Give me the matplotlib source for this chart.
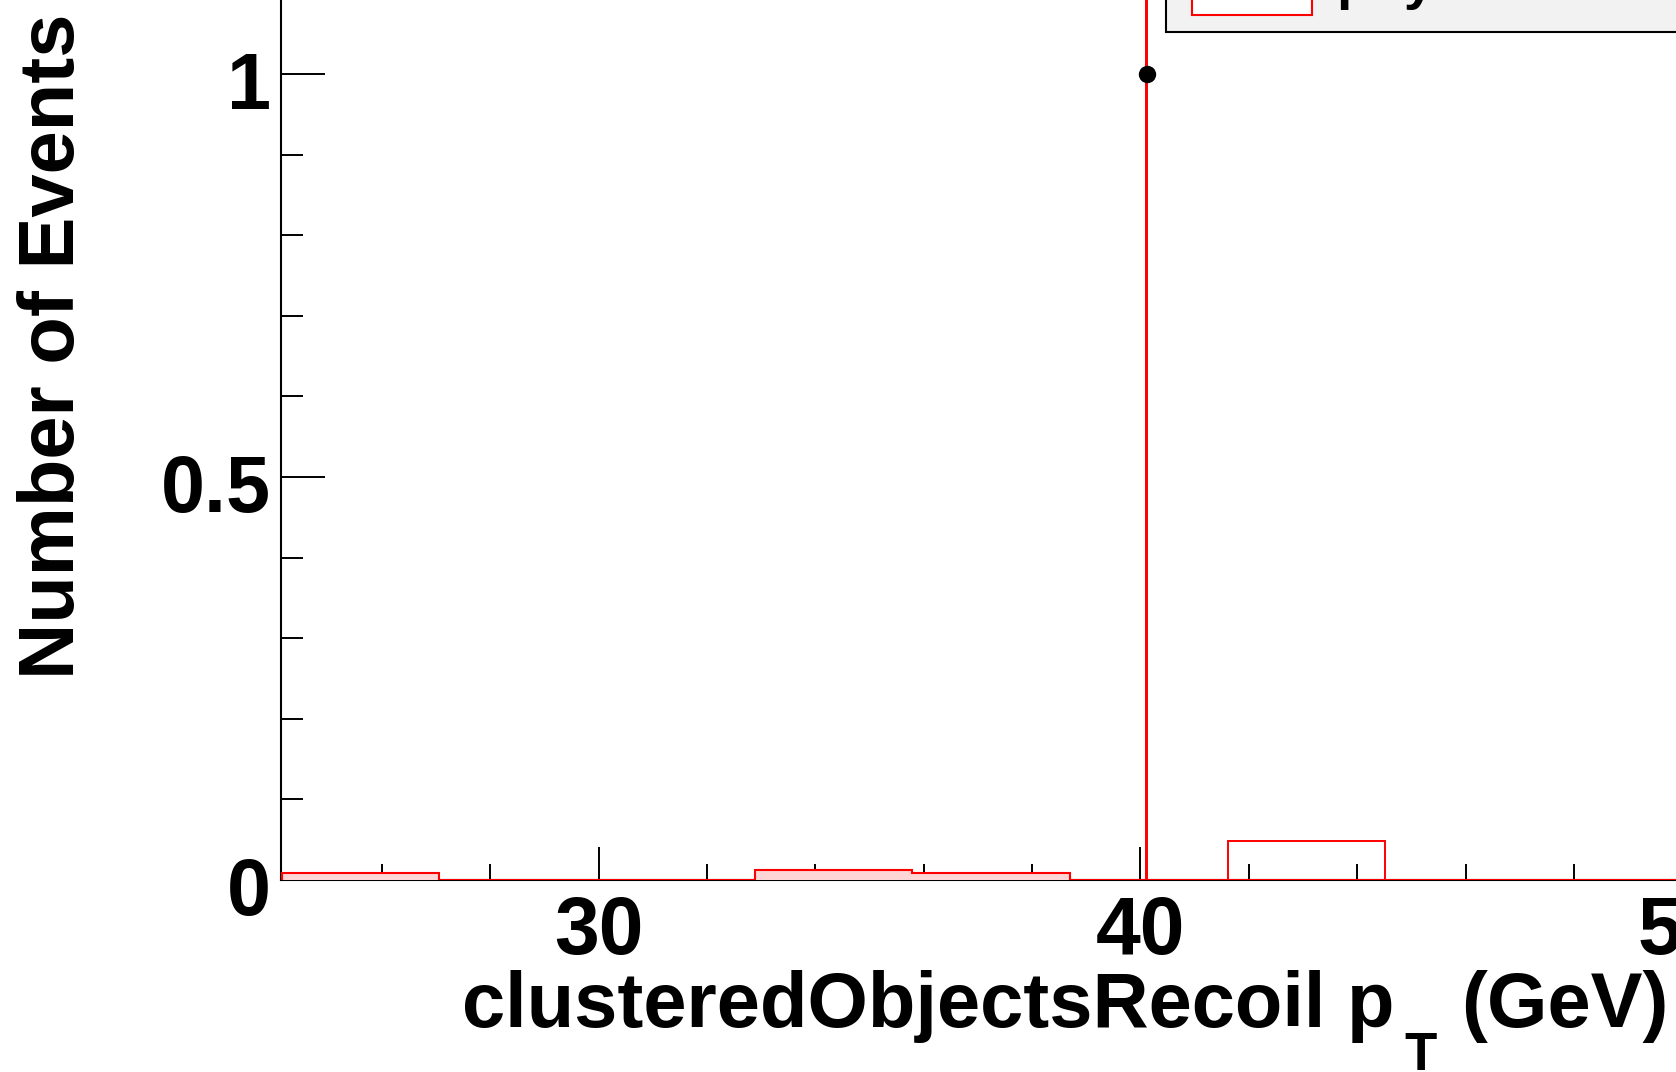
import matplotlib
matplotlib.use("Agg")
import matplotlib.pyplot as plt
from matplotlib.patches import Rectangle
from matplotlib.ticker import FixedLocator, MultipleLocator
from matplotlib.transforms import ScaledTranslation

# ---------------- data ----------------
bkg_edges = [24.15, 27.06, 29.97, 32.88, 35.79, 38.70, 41.61, 44.52, 47.43, 50.34]
bkg_values = [0.0087, 0.0, 0.0, 0.0124, 0.0087, 0.0, 0.0, 0.0, 0.0]

sig_edges = [40.11, 40.13, 41.61, 44.52, 50.34]
sig_values = [3.0, 0.0, 0.048, 0.0]

data_x = [40.12]
data_y = [1.0]

x_major = [30, 40, 50]
x_major_labels = ["30", "40", "50"]
y_major = [0, 0.5, 1]
y_major_labels = ["0", "0.5", "1"]

x_title = "clusteredObjectsRecoil p"
x_title_sub = "T"
x_title_end = "(GeV)"
y_title = "Number of Events"
legend_text = "physics"

# ---------------- figure ----------------
W, H = 1676, 1072
plt.rcParams['font.family'] = ['Liberation Sans', 'DejaVu Sans']
fig = plt.figure(figsize=(W / 100, H / 100), dpi=100)

px_x = 54.19   # pixels per x unit
px_y = 806.0   # pixels per y unit
x0, x1 = 24.14, 50.0
y0, y1 = 0.0, 1.2
left_px, bottom_px = 281, 880
ax = fig.add_axes([left_px / W, (H - bottom_px) / H,
                   (x1 - x0) * px_x / W, (y1 - y0) * px_y / H])
ax.set_xlim(x0, x1)
ax.set_ylim(y0, y1)

RED = "#ff0000"
PINK = "#ffd6d6"

ax.stairs(bkg_values, bkg_edges, fill=True, color=PINK, zorder=2)
ax.stairs(bkg_values, bkg_edges, fill=False, color=RED, lw=1.5, zorder=3)
ax.stairs(sig_values, sig_edges, fill=False, color=RED, lw=1.4, zorder=4)
ax.plot(data_x, data_y, 'o', color='black', markersize=11.5, zorder=5)

for s in ['top', 'right']:
    ax.spines[s].set_visible(False)
for s in ['left', 'bottom']:
    ax.spines[s].set_linewidth(1.5)
    ax.spines[s].set_zorder(1)

ax.xaxis.set_major_locator(FixedLocator(x_major))
ax.set_xticklabels(x_major_labels)
ax.xaxis.set_minor_locator(MultipleLocator(2))
ax.yaxis.set_major_locator(FixedLocator(y_major))
ax.set_yticklabels(y_major_labels)
ax.yaxis.set_minor_locator(MultipleLocator(0.1))

ax.tick_params(axis='x', which='major', direction='in', length=24, width=1.4,
               labelsize=58, pad=11)
ax.tick_params(axis='x', which='minor', direction='in', length=11.5, width=1.4)
ax.tick_params(axis='y', which='major', direction='in', length=32, width=1.4,
               labelsize=57, pad=7)
ax.tick_params(axis='y', which='minor', direction='in', length=16, width=1.4)
shift = ScaledTranslation(0, -6 / 100, fig.dpi_scale_trans)
for lab in ax.get_xticklabels():
    lab.set_fontweight('bold')
for lab in ax.get_yticklabels():
    lab.set_fontweight('bold')
    lab.set_transform(lab.get_transform() + shift)

# ---------------- titles ----------------
fig.text(74 / W, 1 - 679 / H, y_title, rotation=90, rotation_mode='anchor',
         ha='left', va='baseline', fontsize=56, fontweight='bold')

renderer = fig.canvas.get_renderer()
t_main = fig.text(462 / W, 1 - 1027 / H, x_title, ha='left', va='baseline',
                  fontsize=56, fontweight='bold')
bb = t_main.get_window_extent(renderer)
t_sub = fig.text((bb.x1 + 10) / W, 1 - 1070 / H, x_title_sub, ha='left',
                 va='baseline', fontsize=38, fontweight='bold')
bb2 = t_sub.get_window_extent(renderer)
fig.text((bb2.x1 + 24) / W, 1 - 1027 / H, x_title_end, ha='left',
         va='baseline', fontsize=56, fontweight='bold')

# ---------------- legend (cropped) ----------------
fig.patches.append(Rectangle((1170 / W, (H - 29) / H), 600 / W, 100 / H,
                             transform=fig.transFigure, facecolor='#555555',
                             edgecolor='none', zorder=9))
fig.patches.append(Rectangle((1166 / W, (H - 32) / H), 600 / W, 100 / H,
                             transform=fig.transFigure, facecolor='#f2f2f2',
                             edgecolor='black', lw=1.5, zorder=10))
fig.patches.append(Rectangle((1192 / W, (H - 15) / H), 120 / W, 60 / H,
                             transform=fig.transFigure, facecolor='white',
                             edgecolor=RED, lw=1.5, zorder=11))
fig.text(1336 / W, 1 + 2 / H, legend_text, ha='left', va='baseline',
         fontsize=40, fontweight='bold', zorder=12)

fig.savefig("out.png", dpi=100)
